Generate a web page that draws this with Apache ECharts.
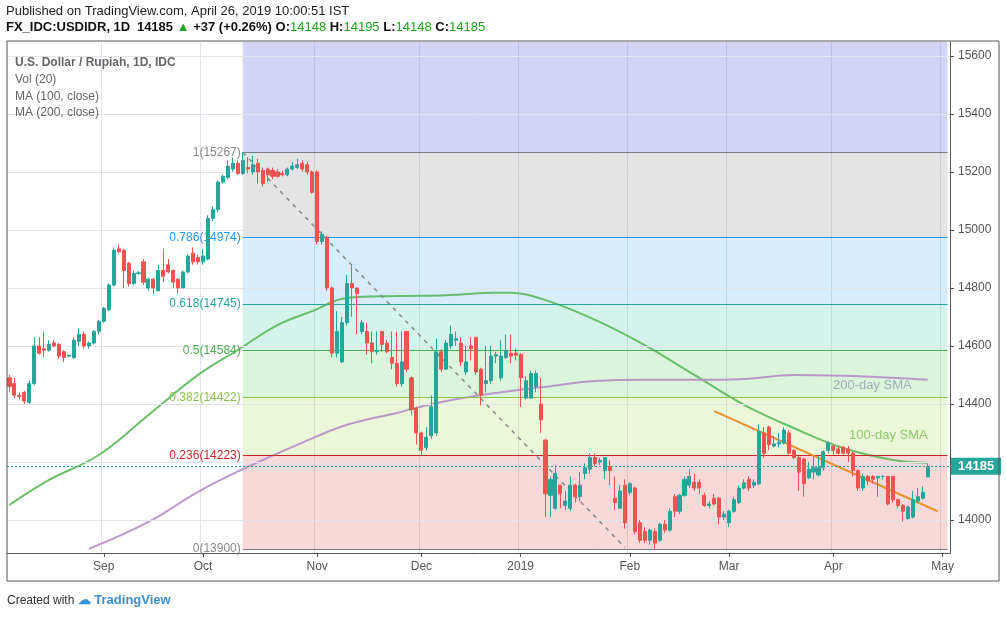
<!DOCTYPE html>
<html><head><meta charset="utf-8">
<script src="https://cdn.jsdelivr.net/npm/echarts@6/dist/echarts.min.js"></script>
<style>html,body{margin:0;padding:0;background:#fff}#c{width:1006px;height:618px}</style>
</head><body><div id="c"></div>
<script>
// [open, close, low, high]
const candles = [
[14490,14460,14440,14500],[14470,14430,14420,14490],[14430,14425,14415,14440],[14440,14410,14400,14445],[14405,14470,14400,14480],
[14470,14600,14465,14630],[14600,14575,14570,14630],[14590,14585,14560,14650],[14585,14605,14580,14620],[14610,14600,14595,14620],
[14605,14565,14555,14610],[14580,14560,14545,14585],[14565,14568,14560,14570],[14560,14620,14555,14630],[14615,14640,14600,14660],
[14640,14600,14590,14650],[14600,14610,14590,14615],[14610,14650,14605,14655],[14650,14685,14640,14690],[14685,14730,14680,14735],
[14725,14810,14720,14815],[14810,14930,14805,14940],[14935,14925,14920,14950],[14930,14860,14800,14935],[14885,14815,14805,14890],
[14815,14850,14810,14860],[14850,14852,14845,14858],[14890,14820,14810,14900],[14800,14830,14790,14835],[14830,14800,14780,14835],
[14790,14860,14790,14880],[14860,14840,14820,14935],[14880,14855,14850,14900],[14860,14820,14800,14865],[14830,14800,14780,14835],
[14800,14855,14800,14860],[14855,14910,14850,14915],[14920,14890,14880,14940],[14905,14890,14880,14915],[14890,14910,14880,14935],
[14900,15040,14895,15050],[15040,15070,15030,15080],[15070,15165,15060,15170],[15165,15185,15160,15190],[15180,15220,15175,15240],
[15210,15230,15200,15250],[15230,15195,15190,15240],[15195,15240,15190,15267],[15215,15210,15195,15250],[15200,15225,15190,15255],
[15230,15200,15160,15245],[15205,15160,15150,15215],[15210,15190,15165,15215],[15205,15185,15175,15215],[15200,15185,15180,15210],
[15195,15190,15185,15205],[15190,15210,15185,15215],[15210,15220,15205,15235],[15215,15225,15210,15245],[15230,15210,15200,15240],
[15225,15200,15190,15235],[15200,15130,15125,15205],[15200,14960,14950,15205],[14960,14985,14950,14995],[14975,14800,14790,14980],
[14800,14575,14560,14805],[14575,14650,14560,14720],[14545,14680,14540,14700],[14680,14815,14670,14845],[14815,14800,14700,14880],
[14800,14780,14640,14800],[14650,14680,14640,14690],[14650,14610,14570,14680],[14610,14580,14540,14650],[14580,14585,14570,14650],
[14650,14605,14580,14650],[14610,14580,14575,14620],[14560,14540,14520,14650],[14540,14470,14460,14650],[14470,14545,14460,14650],
[14650,14520,14510,14650],[14490,14380,14360,14495],[14385,14300,14260,14390],[14300,14240,14225,14305],[14250,14285,14240,14320],
[14290,14390,14280,14430],[14300,14580,14290,14625],[14580,14520,14510,14590],[14520,14610,14520,14620],[14600,14640,14590,14670],
[14620,14625,14600,14650],[14610,14545,14530,14630],[14510,14545,14500,14600],[14600,14590,14550,14630],[14630,14510,14500,14630],
[14520,14430,14395,14525],[14470,14480,14440,14600],[14480,14565,14470,14600],[14565,14570,14540,14580],[14490,14565,14480,14620],
[14560,14585,14555,14640],[14575,14565,14540,14640],[14575,14568,14550,14590],[14570,14490,14390,14575],[14420,14480,14415,14495],
[14420,14505,14420,14515],[14460,14505,14440,14515],[14400,14345,14300,14490],[14275,14090,14010,14280],[14085,14140,14010,14150],
[14040,14160,14035,14190],[14120,14090,14040,14120],[14050,14065,14035,14100],[14040,14120,14030,14150],[14120,14080,14060,14125],
[14080,14120,14065,14165],[14160,14180,14140,14195],[14175,14215,14160,14230],[14215,14195,14185,14230],[14200,14205,14190,14215],
[14170,14215,14140,14215],[14185,14170,14120,14205],[14075,14060,14035,14150],[14040,14100,14040,14120],[14120,13990,13970,14140],
[14095,14125,14085,14130],[14110,13960,13950,14115],[13990,13930,13920,14000],[13960,13930,13920,13975],[13930,13965,13915,13970],
[13960,13920,13900,13970],[13930,13985,13925,13990],[13985,13965,13955,14000],[13965,14030,13960,14040],[14080,14030,14010,14090],
[14030,14085,14020,14090],[14085,14140,14080,14150],[14120,14150,14110,14175],[14130,14110,14100,14160],[14130,14110,14090,14140],
[14085,14050,14045,14095],[14050,14055,14040,14065],[14075,14055,14050,14090],[14075,14010,13985,14080],[14010,14020,14000,14030],[13990,14030,13975,14035],
[14030,14070,14025,14080],[14060,14110,14055,14120],[14110,14128,14105,14140],[14140,14110,14100,14150],[14120,14130,14110,14140],
[14125,14305,14120,14330],[14300,14230,14215,14320],[14320,14260,14240,14325],[14255,14262,14250,14290],[14262,14268,14250,14300],
[14265,14310,14260,14320],[14300,14230,14225,14310],[14240,14215,14210,14245],[14215,14165,14100,14220],[14210,14125,14080,14215],
[14145,14175,14140,14200],[14165,14180,14140,14220],[14155,14180,14150,14220],[14180,14235,14170,14240],[14240,14265,14230,14270],
[14255,14240,14225,14260],[14245,14230,14225,14255],[14250,14230,14225,14255],[14245,14230,14200,14255],[14230,14170,14150,14235],
[14170,14110,14100,14175],[14110,14150,14100,14160],[14150,14135,14120,14155],[14150,14140,14125,14155],[14145,14150,14080,14150],
[14150,14150,14140,14155],[14150,14055,14050,14152],[14150,14070,14060,14152],[14070,14050,14040,14072],[14050,14030,13995,14055],[14005,14045,14000,14050],
[14010,14070,14005,14100],[14065,14080,14060,14110],[14075,14095,14070,14115],[14148,14185,14148,14195]
];
const ma100Idx = [0,8,18,28,38,46,54,61,68,78,88,98,101,108,118,128,138,148,158,168,178,185];
const ma100Val = [14052,14138,14224,14362,14500,14586,14672,14720,14765,14772,14775,14783,14783,14758,14690,14603,14500,14397,14317,14248,14207,14197];
const ma200Idx = [16,28,38,48,58,68,78,88,98,108,118,128,138,148,158,168,178,185];
const ma200Val = [13900,13993,14097,14183,14259,14328,14369,14410,14438,14459,14479,14483,14483,14486,14500,14497,14490,14483];
const fibLevels = [1,0.786,0.618,0.5,0.382,0.236,0];
const fibValues = [15267,14974,14745,14584,14422,14223,13900];
const yTicks = [14000,14200,14400,14600,14800,15000,15200,15400,15600];
const yLabels = [14000,14400,14600,14800,15000,15200,15400,15600];
const lastPrice = 14185;
const holidays = ['2018-11-20','2018-12-25','2019-01-01'];
const monthNames = ['Jan','Feb','Mar','Apr','May','Jun','Jul','Aug','Sep','Oct','Nov','Dec'];

const dates = [];
let d = new Date(Date.UTC(2018,7,7));
while (dates.length < candles.length + 4) {
  const s = d.toISOString().slice(0,10);
  if (d.getUTCDay()!==0 && d.getUTCDay()!==6 && !holidays.includes(s)) dates.push(s);
  d = new Date(d.getTime()+86400000);
}
const monthStart = dates.map((s,i)=> i>0 && s.slice(5,7)!==dates[i-1].slice(5,7));
function lbl(s){const m=+s.slice(5,7);return m===1? s.slice(0,4): monthNames[m-1];}
const ma100 = dates.map(()=>null); ma100Idx.forEach((k,j)=>ma100[k]=ma100Val[j]);
const ma200 = dates.map(()=>null); ma200Idx.forEach((k,j)=>ma200[k]=ma200Val[j]);

const fibStart = 47, fibEnd = dates.length-1;
const fibColors = ['#787b86','#2196f3','#26a69a','#4caf50','#8bc34a','#c62828','#787b86'];
const bandColors = ['rgba(110,110,220,0.3)','rgba(120,120,120,0.2)','rgba(33,150,243,0.18)','rgba(38,200,154,0.2)','rgba(76,200,80,0.2)','rgba(160,210,60,0.2)','rgba(220,80,80,0.22)'];
const bands = [];
bands.push([{coord:[fibStart,15648],itemStyle:{color:bandColors[0]}},{coord:[fibEnd,fibValues[0]]}]);
for (let k=0;k<fibValues.length-1;k++) bands.push([{coord:[fibStart,fibValues[k]],itemStyle:{color:bandColors[k+1]}},{coord:[fibEnd,fibValues[k+1]]}]);
const fibLines = fibValues.map((v,k)=>[{coord:[fibStart,v],lineStyle:{color:fibColors[k],width:1,type:'solid'},
  label:{show:true,position:'start',formatter:fibLevels[k]+'('+v+')',color:fibColors[k]==='#787b86'?'#888':fibColors[k],fontSize:12,distance:2}},{coord:[fibEnd,v]}]);

const chart = echarts.init(document.getElementById('c'));
chart.setOption({
  animation:false,
  textStyle:{fontFamily:'Liberation Sans, Arial, sans-serif'},
  grid:{left:7,right:56,top:42,bottom:65},
  xAxis:{type:'category',data:dates,boundaryGap:true,
    axisLine:{show:true,lineStyle:{color:'#555'}},
    axisTick:{show:true,alignWithLabel:true,interval:(i)=>monthStart[i],length:4,lineStyle:{color:'#555'}},
    axisLabel:{interval:(i)=>monthStart[i],formatter:(v)=>lbl(v),color:'#555',fontSize:12,margin:8},
    splitLine:{show:true,interval:(i)=>monthStart[i],lineStyle:{color:'#e1e4ea'}}},
  yAxis:{type:'value',position:'right',min:13886,max:15648,scale:true,
    axisLine:{show:true,lineStyle:{color:'#555'}},
    axisTick:{show:true,customValues:yTicks,length:4,lineStyle:{color:'#555'}},
    axisLabel:{customValues:yLabels,formatter:(v)=>String(v),color:'#555',fontSize:12,margin:8},
    splitLine:{show:false}},
  series:[
    {type:'line',data:[],markLine:{silent:true,symbol:'none',label:{show:false},
      data:yTicks.map(v=>({yAxis:v})),lineStyle:{color:'#e1e4ea',type:'solid',width:1}},z:0},
    {type:'line',data:[],z:1,
      markArea:{silent:true,data:bands},
      markLine:{silent:true,symbol:'none',data:fibLines.concat([
        [{coord:[fibStart,15267],lineStyle:{color:'#888',type:[4,5],width:1.5},label:{show:false}},{coord:[124,13905]}],
        [{coord:[142,14375],lineStyle:{color:'#e8902c',type:'solid',width:2},label:{show:false}},{coord:[187,14030]}]
      ])}},
    {type:'candlestick',data:candles,barWidth:'72%',z:5,
      itemStyle:{color:'#26a69a',color0:'#ef5350',borderColor:'#26a69a',borderColor0:'#ef5350',borderWidth:1},
      markLine:{silent:true,symbol:'none',data:[{yAxis:lastPrice,lineStyle:{color:'#26a69a',type:[2,2],width:1},
        label:{show:true,position:'end',formatter:String(lastPrice),color:'#fff',fontWeight:'bold',fontSize:13,
          backgroundColor:'#26a69a',padding:[2,7,2,7],distance:1}}]}},
    {type:'line',data:ma100,connectNulls:true,smooth:0.4,symbol:'none',z:4,lineStyle:{color:'#5cb85c',width:2,opacity:0.9}},
    {type:'line',data:ma200,connectNulls:true,smooth:0.4,symbol:'none',z:4,lineStyle:{color:'#b48fc8',width:2,opacity:0.9}}
  ],
  graphic:[
    {type:'rect',shape:{x:7,y:41,width:992,height:540},style:{fill:'none',stroke:'#555',lineWidth:1},z:10},
    {type:'text',left:6,top:5,style:{text:'Published on TradingView.com, April 26, 2019 10:00:51 IST',fill:'#222',fontSize:13,fontFamily:'Liberation Sans'}},
    {type:'text',left:6,top:21,style:{rich:{b:{fontWeight:'bold',fill:'#111',fontSize:13},g:{fill:'#1aa51a',fontSize:13}},
      text:'{b|FX_IDC:USDIDR, 1D}  {b|14185 }{g|▲}{b| +37 (+0.26%) O:}{g|14148}{b| H:}{g|14195}{b| L:}{g|14148}{b| C:}{g|14185}',fontFamily:'Liberation Sans'}},
    {type:'text',left:15,top:57,z:20,style:{text:'U.S. Dollar / Rupiah, 1D, IDC',fill:'#666',fontWeight:'bold',fontSize:12}},
    {type:'text',left:15,top:74,z:20,style:{text:'Vol (20)',fill:'#666',fontSize:12}},
    {type:'text',left:15,top:91,z:20,style:{text:'MA (100, close)',fill:'#666',fontSize:12}},
    {type:'text',left:15,top:107,z:20,style:{text:'MA (200, close)',fill:'#666',fontSize:12}},
    {type:'text',left:833,top:379,style:{text:'200-day SMA',fill:'#b7a8d6',fontSize:13}},
    {type:'text',left:849,top:429,style:{text:'100-day SMA',fill:'#8cc87a',fontSize:13}},
    {type:'text',left:7,top:594,style:{rich:{a:{fill:'#333',fontSize:12},b:{fill:'#3a8fd9',fontSize:13,fontWeight:'bold'}},text:'{a|Created with }{b|☁ TradingView}'}}
  ]
});
</script></body></html>
